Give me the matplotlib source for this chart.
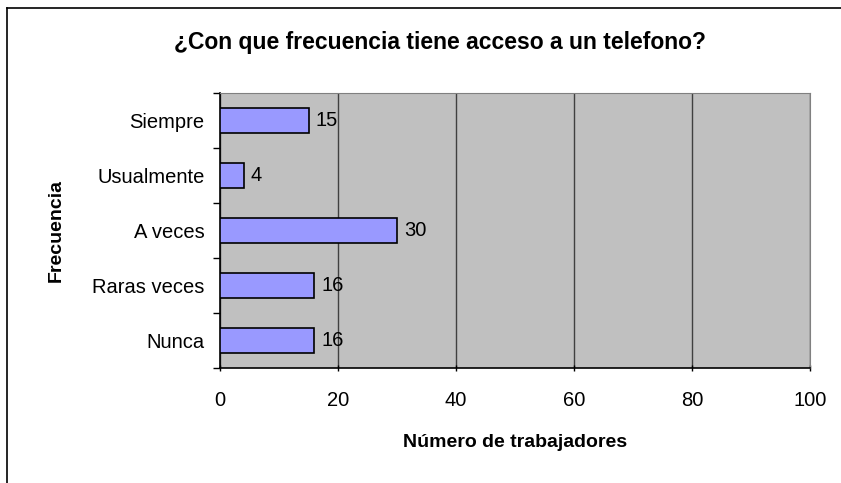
import matplotlib.pyplot as plt
from matplotlib.lines import Line2D

categories = ["Siempre", "Usualmente", "A veces", "Raras veces", "Nunca"]
values = [15, 4, 30, 16, 16]
x_ticks = [0, 20, 40, 60, 80, 100]

plt.rcParams['font.family'] = ['Liberation Sans', 'DejaVu Sans']

W, H = 841, 483
fig = plt.figure(figsize=(W / 100, H / 100), dpi=100)
ax = fig.add_axes([220 / W, 1 - 368 / H, 590 / W, 275 / H])

# outer chart frame (cut off at right and bottom)
fig.add_artist(Line2D([7 / W, 1], [1 - 8 / H, 1 - 8 / H], color='black', lw=1.2))
fig.add_artist(Line2D([7 / W, 7 / W], [0, 1 - 8 / H], color='black', lw=1.2))

ax.set_facecolor('#C0C0C0')
pos = list(range(len(categories)))
bars = ax.barh(pos, values, height=0.46, color='#9999FF', edgecolor='black', linewidth=1.2, zorder=3)
for p, v in zip(pos, values):
    ax.text(v + 1.2, p, str(v), va='center', ha='left', fontsize=14.5, zorder=4)

ax.set_xlim(0, 100)
ax.set_ylim(len(categories) - 0.5, -0.5)
ax.set_xticks(x_ticks)
ax.set_xticklabels([str(t) for t in x_ticks], fontsize=14.5)
ax.set_yticks(pos)
ax.set_yticklabels(categories, fontsize=14.5)
ax.tick_params(axis='y', length=0, pad=11)
ax.set_yticks([i - 0.5 for i in range(len(categories) + 1)], minor=True)
ax.tick_params(axis='y', which='minor', length=5, direction='out', width=1)
ax.tick_params(axis='x', length=5, direction='inout', width=1, pad=14)

ax.grid(axis='x', color='#404040', lw=1, zorder=1)
for s in ['top', 'right']:
    ax.spines[s].set_color('#808080')
for s in ['left', 'bottom']:
    ax.spines[s].set_color('black')
    ax.spines[s].set_linewidth(1.2)

ax.set_xlabel('Número de trabajadores', fontsize=14, fontweight='bold', labelpad=17)
ax.set_ylabel('Frecuencia', fontsize=14, fontweight='bold', labelpad=20)
fig.text(440 / W, 1 - 42 / H, '¿Con que frecuencia tiene acceso a un telefono?',
         ha='center', va='center', fontsize=16.5, fontweight='bold')

fig.savefig('out.png', dpi=100, facecolor='white')
